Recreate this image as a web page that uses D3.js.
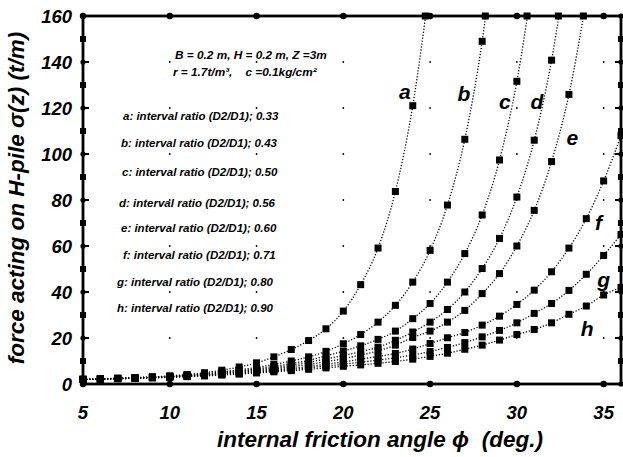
<!DOCTYPE html>
<html>
<head>
<meta charset="utf-8">
<script src="https://cdn.jsdelivr.net/npm/d3@7"></script>
<style>
  body { margin: 0; background: #fff; }
  text { font-family: "Liberation Sans", Arial, sans-serif; font-weight: bold; font-style: italic; fill: #000; white-space: pre; }
</style>
</head>
<body>
<script>
// friction angle (deg.)
const angles = d3.range(5, 37);

// force on H-pile, one list per interval ratio (values above 160 run off the top)
const seriesA = [2.0, 2.2, 2.5, 2.8, 3.1, 3.5, 4.1, 4.9, 6.0, 7.4, 9.2, 11.8, 15.0, 18.9, 24.0, 31.7, 43.2, 59.1, 83.7, 121, 175];
const seriesB = [2.0, 2.2, 2.5, 2.7, 3.0, 3.4, 3.9, 4.5, 5.3, 6.2, 7.2, 8.5, 10.0, 11.8, 14.2, 17.5, 21.5, 26.9, 34.2, 44.3, 58.1, 77.8, 106.4, 149, 210];
const seriesC = [2.0, 2.2, 2.4, 2.7, 3.0, 3.3, 3.8, 4.3, 5.0, 5.8, 6.6, 7.7, 8.9, 10.3, 12.2, 14.3, 16.6, 19.4, 23.0, 28.4, 35.0, 44.3, 56.7, 73.5, 97.4, 131.6, 180];
const seriesD = [2.0, 2.2, 2.4, 2.6, 2.9, 3.2, 3.6, 4.1, 4.7, 5.4, 6.2, 7.1, 8.2, 9.4, 10.9, 12.4, 14.1, 16.0, 19.0, 22.6, 26.9, 32.4, 40.0, 50.2, 63.3, 81.3, 106, 140.8, 190];
const seriesE = [2.0, 2.2, 2.4, 2.6, 2.9, 3.2, 3.5, 4.0, 4.5, 5.1, 5.8, 6.6, 7.5, 8.5, 9.7, 11.0, 12.6, 14.4, 16.9, 20.2, 23.0, 26.9, 32.0, 39.3, 48.0, 60.0, 75.5, 96.7, 125.9, 167];
const seriesF = [2.0, 2.2, 2.4, 2.6, 2.8, 3.1, 3.4, 3.8, 4.3, 4.8, 5.4, 6.1, 6.8, 7.6, 8.6, 9.6, 10.8, 12.0, 13.3, 15.2, 17.6, 20.1, 22.4, 25.6, 29.5, 34.6, 40.8, 48.8, 59.1, 71.9, 88.3, 108];
const seriesG = [2.0, 2.2, 2.3, 2.5, 2.7, 3.0, 3.3, 3.7, 4.1, 4.6, 5.1, 5.7, 6.3, 7.0, 7.8, 8.6, 9.5, 10.4, 11.4, 12.6, 14.1, 15.9, 18.0, 20.5, 23.3, 26.6, 30.7, 35.0, 40.7, 47.7, 55.9, 65];
const seriesH = [2.0, 2.1, 2.3, 2.5, 2.7, 2.9, 3.2, 3.5, 3.9, 4.3, 4.8, 5.3, 5.8, 6.4, 7.0, 7.7, 8.3, 9.0, 9.8, 10.8, 12.0, 13.4, 15.1, 16.9, 19.1, 21.5, 23.7, 26.6, 30.3, 33.9, 38.7, 42];

const curveNames = ['a', 'b', 'c', 'd', 'e', 'f', 'g', 'h'];
const ratios = ['0.33', '0.43', '0.50', '0.56', '0.60', '0.71', '0.80', '0.90'];
const xTicks = [5, 10, 15, 20, 25, 30, 35];
const yTicks = [0, 20, 40, 60, 80, 100, 120, 140, 160];

const allSeries = [seriesA, seriesB, seriesC, seriesD, seriesE, seriesF, seriesG, seriesH];

// where the curve letters sit (angle, force)
const labelPos = [[23.55, 124], [26.95, 123], [29.3, 119.6], [31.15, 119.6], [33.2, 104], [34.7, 67], [35.0, 42], [34.05, 21]];

const W = 623, H = 457;
const x = d3.scaleLinear().domain([5, 36]).range([83, 621]);
const y = d3.scaleLinear().domain([0, 160]).range([384, 16]);

const svg = d3.select('body').append('svg')
  .attr('width', W)
  .attr('height', H);

svg.append('defs').append('clipPath').attr('id', 'plot')
  .append('rect')
  .attr('x', x(5)).attr('y', y(160))
  .attr('width', x(36) - x(5)).attr('height', y(0) - y(160));

// faint grid dots
xTicks.filter(d => d > 5).forEach(a => {
  yTicks.filter(v => v > 0 && v < 160).forEach(v => {
    svg.append('circle').attr('cx', x(a)).attr('cy', y(v)).attr('r', 0.9).attr('fill', '#000');
  });
});

// curves
const line = d3.line()
  .x(d => x(d[0]))
  .y(d => y(d[1]))
  .curve(d3.curveMonotoneX);

const curves = svg.append('g').attr('clip-path', 'url(#plot)');

allSeries.forEach(vals => {
  const pts = vals.map((v, i) => [angles[i], v]);
  curves.append('path')
    .attr('d', line(pts))
    .attr('fill', 'none')
    .attr('stroke', '#000')
    .attr('stroke-width', 1.3)
    .attr('stroke-dasharray', '1.2,1.8');

  const shown = pts.filter(p => p[1] <= 160);
  // where the curve leaves through the top, a marker sits on the frame
  const k = pts.findIndex(p => p[1] > 160);
  if (k > 0) {
    const p0 = pts[k - 1], p1 = pts[k];
    const t = (160 - p0[1]) / (p1[1] - p0[1]);
    shown.push([p0[0] + t * (p1[0] - p0[0]), 160]);
  }
  svg.append('g').selectAll('rect')
    .data(shown)
    .enter()
    .append('rect')
    .attr('x', d => x(d[0]) - 3.5)
    .attr('y', d => y(d[1]) - 3.5)
    .attr('width', 7)
    .attr('height', 7)
    .attr('fill', '#000');
});

// frame
svg.append('rect')
  .attr('x', x(5)).attr('y', y(160))
  .attr('width', x(36) - x(5)).attr('height', y(0) - y(160))
  .attr('fill', 'none')
  .attr('stroke', '#000')
  .attr('stroke-width', 2.8);

// tick markers on the frame
xTicks.forEach(a => {
  [y(0), y(160)].forEach(py => {
    svg.append('circle').attr('cx', x(a)).attr('cy', py).attr('r', 3.2).attr('fill', '#000');
  });
});
yTicks.forEach(v => {
  [x(5), x(36)].forEach((px, side) => {
    svg.append('circle').attr('cx', px).attr('cy', y(v)).attr('r', 2.6).attr('fill', '#000');
    svg.append('line')
      .attr('x1', px).attr('x2', side ? px - 6 : px + 6)
      .attr('y1', y(v)).attr('y2', y(v))
      .attr('stroke', '#000').attr('stroke-width', 2);
  });
  if (v < 160) {
    [x(5), x(36)].forEach(px => {
      svg.append('rect').attr('x', px - 3).attr('y', y(v + 10) - 3)
        .attr('width', 6).attr('height', 6).attr('fill', '#000');
    });
  }
});

// axis numbers
svg.append('g').selectAll('text')
  .data(yTicks)
  .enter()
  .append('text')
  .attr('x', 72)
  .attr('y', d => y(d) + 6.5)
  .attr('text-anchor', 'end')
  .attr('font-size', 18.5)
  .text(d => d);

svg.append('g').selectAll('text')
  .data(xTicks)
  .enter()
  .append('text')
  .attr('x', d => x(d))
  .attr('y', 419)
  .attr('text-anchor', 'middle')
  .attr('font-size', 18.5)
  .text(d => d);

// axis titles
svg.append('text')
  .attr('x', 380)
  .attr('y', 447)
  .attr('text-anchor', 'middle')
  .attr('font-size', 22.5)
  .text('internal friction angle \u03d5  (deg.)');

svg.append('text')
  .attr('transform', 'translate(24,198) rotate(-90)')
  .attr('text-anchor', 'middle')
  .attr('font-size', 22.5)
  .text('force acting on H-pile \u03c3(z) (t/m)');

// conditions
svg.append('text').attr('x', 175).attr('y', 59).attr('font-size', 11.8)
  .text('B = 0.2 m, H = 0.2 m, Z =3m');
svg.append('text').attr('x', 173).attr('y', 76).attr('font-size', 11.8)
  .text('r = 1.7t/m\u00b3,    c =0.1kg/cm\u00b2');

// legend of ratios
const legendY = [120, 147, 176, 207, 232, 259, 286, 312];
const legendX = [123, 121, 122, 119, 121, 123, 117, 117];
curveNames.forEach((n, i) => {
  svg.append('text')
    .attr('x', legendX[i])
    .attr('y', legendY[i])
    .attr('font-size', 11.5)
    .text(n + ': interval ratio (D2/D1); ' + ratios[i]);
});

// curve letters
curveNames.forEach((n, i) => {
  svg.append('text')
    .attr('x', x(labelPos[i][0]))
    .attr('y', y(labelPos[i][1]))
    .attr('text-anchor', 'middle')
    .attr('font-size', 21)
    .text(n);
});
</script>
</body>
</html>
